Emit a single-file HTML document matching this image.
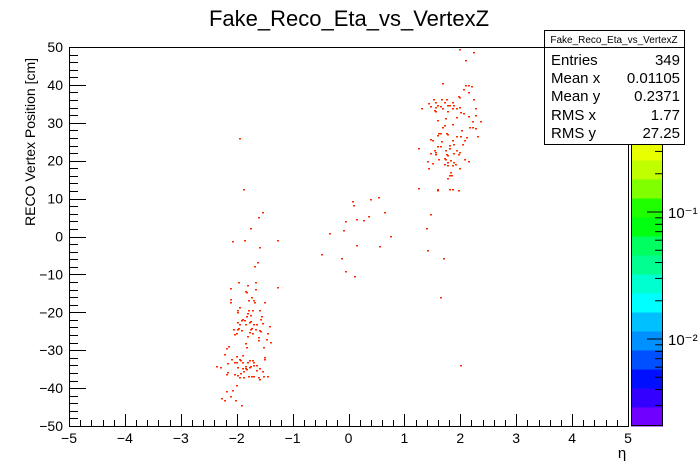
<!DOCTYPE html>
<html><head><meta charset="utf-8"><style>
html,body{margin:0;padding:0;background:#fff;}
svg{display:block;font-family:"Liberation Sans",Arial,sans-serif;}
</style></head><body>
<svg id="c" width="698" height="474" viewBox="0 0 698 474" xmlns="http://www.w3.org/2000/svg">
<rect x="0" y="0" width="698" height="474" fill="#fff"/>
<text x="349" y="26" font-size="22" text-anchor="middle">Fake_Reco_Eta_vs_VertexZ</text>
<g id="palette"></g>
<g id="points"></g>
<g id="axes"></g>
<text transform="translate(35,226) rotate(-90)" font-size="14" text-anchor="start">RECO Vertex Position [cm]</text>
<text x="622" y="458" font-size="15" text-anchor="middle">η</text>
<g>
<rect x="544.5" y="30.5" width="140" height="114" fill="#fff" stroke="#000" stroke-width="1"/>
<line x1="544.5" y1="47.5" x2="684.5" y2="47.5" stroke="#000"/>
<text x="614" y="43" font-size="10" text-anchor="middle">Fake_Reco_Eta_vs_VertexZ</text>
<text x="551" y="65" font-size="15">Entries</text><text x="680" y="65" font-size="15" text-anchor="end">349</text>
<text x="551" y="83" font-size="15">Mean x</text><text x="680" y="83" font-size="15" text-anchor="end">0.01105</text>
<text x="551" y="101" font-size="15">Mean y</text><text x="680" y="101" font-size="15" text-anchor="end">0.2371</text>
<text x="551" y="120" font-size="15">RMS x</text><text x="680" y="120" font-size="15" text-anchor="end">1.77</text>
<text x="551" y="138" font-size="15">RMS y</text><text x="680" y="138" font-size="15" text-anchor="end">27.25</text>
</g>
</svg>
<script>
const etaValues=[-1.63,-1.69,-1.97,-1.81,-1.67,-1.28,-2.12,-1.85,-1.84,-1.68,-1.75,-1.80,-1.71,-1.69,-1.51,-2.12,-2.12,-1.96,-2.00,-2.00,-1.80,-1.72,-1.61,-1.81,-1.83,-1.77,-1.56,-1.90,-1.93,-1.87,-1.77,-1.78,-1.58,-1.99,-1.96,-1.71,-1.65,-1.55,-1.85,-1.42,-1.74,-1.77,-1.67,-1.61,-1.58,-2.06,-2.00,-1.97,-1.93,-2.05,-2.01,-1.78,-1.72,-1.81,-1.62,-1.46,-1.62,-1.47,-1.40,-1.86,-1.83,-2.15,-2.19,-1.53,-2.23,-1.51,-1.51,-2.01,-1.96,-1.94,-1.90,-1.78,-1.70,-1.72,-2.11,-2.17,-2.05,-2.02,-1.91,-1.82,-1.86,-1.77,-1.78,-1.71,-1.65,-1.61,-1.66,-1.55,-2.37,-2.29,-1.99,-1.90,-1.85,-1.83,-2.18,-2.20,-2.05,-2.00,-1.89,-1.94,-1.74,-1.71,-1.62,-1.60,-1.53,-1.46,-1.89,-1.80,-1.96,-2.01,-2.08,-2.19,-2.12,-2.28,-2.23,-2.03,-1.92,
-1.95,-1.89,-1.55,-1.62,-1.76,-1.87,-2.08,-1.28,-1.60,
0.06,0.08,0.38,0.53,0.64,0.35,0.13,0.26,-0.06,-0.10,-0.35,0.13,0.55,0.74,-0.49,-0.13,-0.06,0.10,1.24,1.58,1.46,1.39,
1.98,2.22,2.09,1.68,2.09,2.14,2.20,2.04,2.13,1.95,1.98,2.22,1.52,1.66,1.74,1.43,1.55,1.70,1.85,1.59,1.64,1.77,1.80,1.87,1.29,1.46,1.54,1.53,1.55,1.68,1.76,1.86,1.98,1.92,1.99,2.05,2.27,2.27,2.36,2.21,1.73,1.93,1.58,2.13,1.86,1.70,1.67,2.15,2.21,2.27,2.01,1.61,1.59,1.64,1.74,1.77,1.93,1.99,2.11,2.29,2.07,1.85,1.45,1.49,1.65,2.03,1.80,1.87,1.59,1.64,1.80,1.25,1.53,1.55,1.46,1.73,1.92,1.98,1.87,1.95,1.54,1.74,1.77,2.07,2.13,1.70,1.73,1.61,1.41,1.49,1.82,1.77,1.87,1.70,1.76,1.85,1.90,1.98,1.43,1.82,1.80,1.83,1.77,1.25,1.59,1.80,1.86,1.95,
2.00,1.64,1.69,1.40];
const zValues=[-6.8,-7.9,-12.1,-12.8,-12.1,-13.4,-13.7,-14.3,-14.7,-13.9,-16.0,-16.7,-16.7,-17.4,-17.4,-16.6,-17.4,-18.7,-19.4,-20.0,-19.4,-19.4,-19.4,-20.1,-20.9,-20.8,-21.1,-21.7,-22.0,-22.0,-22.2,-22.5,-21.8,-22.5,-23.0,-23.2,-23.2,-22.7,-23.1,-23.7,-24.2,-24.5,-24.3,-24.8,-24.9,-24.5,-24.4,-24.2,-24.8,-25.7,-25.5,-25.1,-25.5,-26.2,-26.4,-25.5,-27.3,-27.1,-27.8,-28.2,-29.2,-29.0,-29.5,-29.1,-31.1,-31.9,-32.3,-31.4,-32.4,-32.6,-31.3,-32.6,-33.0,-32.7,-32.2,-33.3,-33.1,-33.2,-33.1,-33.0,-34.2,-34.2,-34.5,-34.0,-34.0,-34.8,-35.2,-35.5,-34.2,-34.5,-34.5,-34.7,-34.8,-34.9,-35.8,-36.3,-36.4,-36.5,-35.4,-36.1,-36.7,-36.7,-37.0,-37.5,-36.7,-36.9,-37.1,-36.7,-37.1,-39.2,-40.6,-40.8,-42.2,-42.7,-43.2,-43.2,-44.5,
26.0,12.5,6.5,5.1,2.2,-0.9,-1.2,-0.9,-2.8,
9.4,8.3,9.9,10.4,6.5,5.4,4.6,4.4,4.1,1.7,0.9,-2.2,-2.5,0.1,-4.6,-5.7,-9.1,-10.4,12.8,12.5,5.9,2.2,
49.6,48.6,46.5,40.4,40.1,40.1,39.7,38.8,38.0,37.2,36.7,36.4,36.4,36.4,36.4,35.1,35.4,35.4,35.4,34.6,34.4,34.6,34.6,34.6,33.8,34.4,34.1,33.5,33.0,33.8,33.0,33.8,34.2,33.8,32.8,32.5,33.8,32.0,30.6,30.6,31.2,31.5,30.8,31.7,29.8,29.3,28.9,28.9,28.8,28.5,28.0,27.2,26.9,27.4,27.2,27.1,26.6,26.6,26.3,26.4,25.5,25.5,25.8,25.5,25.3,24.3,24.1,24.5,24.0,23.8,23.3,23.3,22.7,22.2,21.9,22.7,22.9,22.4,22.1,21.7,21.8,21.8,21.6,20.5,19.8,20.6,20.5,20.4,19.8,19.5,20.1,19.7,19.6,19.0,18.9,18.9,19.1,18.0,18.0,17.1,16.1,16.2,15.5,12.7,12.4,12.5,12.6,12.4,
-33.9,-16.0,-5.7,-3.6];
const xTickLabels=[-5,-4,-3,-2,-1,0,1,2,3,4,5];
const yTickLabels=[-50,-40,-30,-20,-10,0,10,20,30,40,50];
const zTickLabels=["10⁻²","10⁻¹"];
const zTickValues=[0.01,0.1];

const NS="http://www.w3.org/2000/svg";
const L=69,R=628,T=47,B=426;
const xs=v=>L+(v+5)/10*(R-L);
const ys=v=>B-(v+50)/100*(B-T);
const PT=47,PB=426,PX=631,PW=32;
const zs=v=>339+(-2-Math.log10(v))*127;
const bandColors=['#7000ff','#3300ff','#0010ff','#0050ff','#0090ff','#00c0ff','#00ffff','#00ffd0','#00ff90','#00ff60','#00ff10','#20ff00','#80ff00','#c0ff00','#e8ff00','#ffd000','#ff9000','#ff5000','#ff2000','#ff0000'];
function mk(tag,attrs,parent){const e=document.createElementNS(NS,tag);for(const k in attrs)e.setAttribute(k,attrs[k]);parent.appendChild(e);return e;}

const pal=document.getElementById('palette');
for(let i=0;i<20;i++){
  const y0=PB-(i+1)*19;
  const r=mk('rect',{x:PX,y:y0,width:PW,height:19.5,fill:bandColors[i]},pal);
  
  
}
mk('rect',{x:PX+0.5,y:PT+0.5,width:PW-1,height:PB-PT-1,fill:'none',stroke:'#000'},pal);
for(let d=-3;d<=-1;d++){
  for(let m=1;m<=9;m++){
    const v=m*Math.pow(10,d);const y=zs(v);
    if(y<PT||y>PB)continue;
    const len=m===1?16:8;
    mk('line',{x1:PX+PW,x2:PX+PW-len,y1:y,y2:y,stroke:'#000'},pal);
  }
}
zTickValues.forEach((v,i)=>{
  const t=mk('text',{x:668,y:zs(v)+6,'font-size':15},pal);
  t.textContent=zTickLabels[i];
  
  
});

const pg=document.getElementById('points');
etaValues.forEach((e,i)=>{
  const z=zValues[i];if(z===undefined)return;
  const r=mk('rect',{x:Math.round(xs(e)),y:Math.round(ys(z)),width:2,height:1.5,fill:'#ff2a00'},pg);
  
  
});

const ax=document.getElementById('axes');
mk('rect',{x:L+0.5,y:T+0.5,width:R-L,height:B-T,fill:'none',stroke:'#000'},ax);
for(let v=-5;v<=5.0001;v+=0.2){
  const x=Math.round(xs(v))+0.5;const major=Math.abs(v-Math.round(v))<1e-6;
  mk('line',{x1:x,x2:x,y1:B,y2:B-(major?12:6),stroke:'#000'},ax);
}
for(let v=-50;v<=50;v+=2){
  const y=Math.round(ys(v))+0.5;const major=v%10===0;
  mk('line',{x1:L,x2:L+(major?17:9),y1:y,y2:y,stroke:'#000'},ax);
}
xTickLabels.forEach(v=>{
  const t=mk('text',{x:xs(v),y:443,'font-size':14,'text-anchor':'middle'},ax);
  t.textContent=v<0?'−'+(-v):String(v);
  
  
});
yTickLabels.forEach(v=>{
  const t=mk('text',{x:63,y:ys(v)+5,'font-size':14,'text-anchor':'end'},ax);
  t.textContent=v<0?'−'+(-v):String(v);
  
  
});
</script>
</body></html>
